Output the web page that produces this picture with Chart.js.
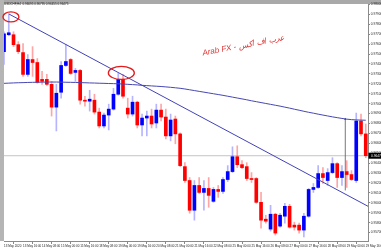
<!DOCTYPE html>
<html><head><meta charset="utf-8">
<script src="https://cdn.jsdelivr.net/npm/chart.js@4.4.0/dist/chart.umd.min.js"></script>
<style>html,body{margin:0;padding:0;background:#fff;overflow:hidden}canvas{display:block}</style>
</head><body>
<canvas id="c" width="381" height="250"></canvas>
<script>
const symbolTitle = 'USDCHF,H4';
const openP = [0.97525,0.97695,0.97695,0.97595,0.97515,0.97295,0.97445,0.97415,0.97245,0.97245,
0.97195,0.96965,0.97115,0.97385,0.97445,0.97315,0.97335,0.97035,0.97025,0.97035,
0.96915,0.96775,0.96885,0.96945,0.97095,0.97245,0.96955,0.96895,0.97015,0.96785,
0.96855,0.96875,0.96805,0.96935,0.96865,0.96675,0.96845,0.96695,0.96365,0.96225,
0.95925,0.96175,0.96105,0.96145,0.96015,0.96135,0.96115,0.96235,0.96315,0.96465,
0.96385,0.96365,0.96245,0.96245,0.96005,0.95835,0.95735,0.95885,0.95765,0.95865,
0.95965,0.95775,0.95775,0.95725,0.95865,0.96135,0.96155,0.96295,0.96225,0.96305,
0.96395,0.96255,0.96315,0.96285,0.96225,0.96825,0.96695];
const highP = [0.97725,0.97905,0.97725,0.97625,0.97605,0.97495,0.97575,0.97455,0.97325,0.97295,
0.97225,0.97195,0.97425,0.97595,0.97455,0.97355,0.97345,0.97075,0.97135,0.97095,
0.96955,0.96905,0.96995,0.97155,0.97305,0.97295,0.97055,0.97075,0.97025,0.96895,
0.96925,0.96945,0.96995,0.96995,0.96945,0.96895,0.96875,0.96705,0.96405,0.96255,
0.96225,0.96255,0.96225,0.96255,0.96155,0.96175,0.96255,0.96375,0.96565,0.96575,
0.96425,0.96405,0.96305,0.96255,0.96105,0.95875,0.95975,0.95895,0.95895,0.95995,
0.95985,0.95805,0.95795,0.95895,0.96145,0.96195,0.96375,0.96355,0.96345,0.96455,
0.96405,0.96375,0.96425,0.96325,0.96905,0.96895,0.96795];
const lowP = [0.97395,0.97685,0.97575,0.97505,0.97275,0.97275,0.97275,0.97205,0.97195,0.97185,
0.96875,0.96725,0.97055,0.97375,0.97295,0.97225,0.96995,0.96975,0.96925,0.96895,
0.96755,0.96755,0.96735,0.96935,0.97085,0.97055,0.96855,0.96875,0.96755,0.96675,
0.96675,0.96755,0.96755,0.96825,0.96645,0.96625,0.96595,0.96365,0.96205,0.95895,
0.95825,0.96095,0.95925,0.95955,0.96005,0.96055,0.96095,0.96215,0.96305,0.96355,
0.96345,0.96225,0.96205,0.95995,0.95745,0.95795,0.95715,0.95675,0.95755,0.95795,
0.95745,0.95725,0.95695,0.95655,0.95855,0.96105,0.96145,0.96195,0.96175,0.96295,
0.96155,0.96175,0.96155,0.96225,0.96205,0.96675,0.96455];
const closeP = [0.97705,0.97715,0.97595,0.97525,0.97295,0.97445,0.97415,0.97215,0.97225,0.97195,
0.96965,0.97105,0.97385,0.97425,0.97305,0.97335,0.97035,0.97025,0.97045,0.96915,
0.96775,0.96885,0.96945,0.97095,0.97245,0.97075,0.96895,0.97015,0.96785,0.96855,
0.96875,0.96795,0.96935,0.96865,0.96675,0.96835,0.96695,0.96375,0.96225,0.95925,
0.96175,0.96105,0.96145,0.96075,0.96135,0.96115,0.96235,0.96315,0.96465,0.96385,
0.96355,0.96245,0.96235,0.96005,0.95825,0.95815,0.95885,0.95695,0.95875,0.95965,
0.95755,0.95755,0.95725,0.95865,0.96135,0.96155,0.96295,0.96255,0.96305,0.96395,
0.96255,0.96315,0.96285,0.96235,0.96825,0.96695,0.96475];
const maValues = [0.97205,0.97207,0.97209,0.97211,0.97212,0.97214,0.97215,0.97216,0.97217,0.97218,
0.97218,0.97218,0.97217,0.97216,0.97215,0.97214,0.97212,0.97211,0.97209,0.97208,
0.97206,0.97205,0.97203,0.97202,0.97200,0.97198,0.97195,0.97192,0.97189,0.97185,
0.97182,0.97179,0.97176,0.97173,0.97169,0.97165,0.97160,0.97155,0.97148,0.97140,
0.97132,0.97124,0.97116,0.97108,0.97100,0.97092,0.97084,0.97075,0.97066,0.97057,
0.97048,0.97039,0.97029,0.97020,0.97011,0.97002,0.96993,0.96984,0.96975,0.96965,
0.96955,0.96944,0.96934,0.96923,0.96913,0.96904,0.96894,0.96885,0.96876,0.96867,
0.96859,0.96851,0.96844,0.96839,0.96836,0.96834,0.96833];
const trendLine = [{x:1, y:0.97905}, {x:76.47, y:0.95965}];
const arrowLine = [{x:71.7, y:0.96125}, {x:71.7, y:0.96845}];
const priceTicks = [0.980,0.979,0.978,0.977,0.976,0.975,0.974,0.973,0.972,0.971,0.970,0.969,0.968,0.967,0.966,0.965,0.964,0.963,0.962,0.961,0.960,0.959,0.958,0.957];
const timeTickIndex = [0,4,8,12,16,20,24,28,32,36,40,44,48,52,56,60,64,68,72,76];
const timeLabels = ['13 May 2020','13 May 16:00','14 May 08:00','15 May 00:00','15 May 16:00','18 May 08:00','19 May 00:00','19 May 16:00','20 May 08:00','21 May 00:00','21 May 16:00','22 May 08:00','25 May 00:00','25 May 16:00','26 May 08:00','27 May 00:00','27 May 16:00','28 May 08:00','29 May 00:00','29 May 16:00'];
const circleMarks = [{x:1.46, y:0.97875, rx:8, ry:5}, {x:24.65, y:0.97310, rx:13, ry:6.5}];
const noteText = 'Arab FX - عرب اف اكس';
const notePos = {x:41.79, y:0.97485};

const X_MIN = 0, X_MAX = 76.47;
const last = closeP.length - 1;
const idx = closeP.map((_, i) => i);
const isUp = i => closeP[i] >= openP[i];

const decor = {
  id: 'decor',
  beforeDraw(chart) {
    const c = chart.ctx, a = chart.chartArea;
    c.save();
    c.fillStyle = '#fff'; c.fillRect(0, 0, chart.width, chart.height);
    c.fillStyle = '#a9a9a9'; c.fillRect(0, 0, chart.width, a.top);
    c.fillStyle = '#b5b5b5'; c.fillRect(0, 0, a.left, a.bottom);
    c.restore();
  },
  afterDatasetsDraw(chart) {
    const c = chart.ctx, xs = chart.scales.x, ys = chart.scales.y;
    c.save();
    c.strokeStyle = '#e31b1b'; c.lineWidth = 1.3;
    circleMarks.forEach(m => {
      c.beginPath();
      c.ellipse(xs.getPixelForValue(m.x), ys.getPixelForValue(m.y), m.rx, m.ry, 0, 0, Math.PI * 2);
      c.stroke();
    });
    c.translate(xs.getPixelForValue(notePos.x), ys.getPixelForValue(notePos.y));
    c.rotate(-0.19);
    c.font = 'italic 8px "Liberation Sans", "DejaVu Sans", sans-serif';
    c.fillStyle = '#e23434';
    c.textBaseline = 'alphabetic';
    c.fillText(noteText, 0, 0);
    c.restore();
  },
  afterDraw(chart) {
    const c = chart.ctx, ys = chart.scales.y, a = chart.chartArea;
    c.save();
    c.font = '3px "Liberation Sans", sans-serif';
    c.fillStyle = '#222';
    c.textBaseline = 'middle';
    const f = v => v.toFixed(5);
    c.fillText(symbolTitle + '  ' + f(openP[last]) + ' ' + f(highP[last]) + ' ' + f(lowP[last]) + ' ' + f(closeP[last]), 4, 4.6);
    const py = ys.getPixelForValue(closeP[last]);
    c.fillStyle = '#000';
    c.fillRect(a.right + 0.5, py - 3, chart.width - a.right, 6);
    c.fillStyle = '#fff';
    c.font = '3.2px "Liberation Sans", sans-serif';
    c.fillText(f(closeP[last]), a.right + 3, py);
    c.restore();
  }
};

new Chart(document.getElementById('c'), {
  type: 'bar',
  data: {
    datasets: [
      { type: 'line', data: [{x: X_MIN, y: closeP[last]}, {x: X_MAX, y: closeP[last]}], borderColor: '#c4c4c4', borderWidth: 1, pointRadius: 0, order: 10 },
      { type: 'bar', data: idx.map(i => ({x: i, y: [lowP[i], highP[i]]})), backgroundColor: idx.map(i => isUp(i) ? 'rgba(60,60,255,0.38)' : 'rgba(255,40,40,0.42)'), barThickness: 1, grouped: false, order: 6 },
      { type: 'bar', data: idx.map(i => ({x: i, y: [openP[i], closeP[i]]})), backgroundColor: idx.map(i => isUp(i) ? '#0000ff' : '#ff0000'), barThickness: 3, minBarLength: 1, grouped: false, order: 5 },
      { type: 'line', data: idx.map(i => ({x: i, y: maValues[i]})), borderColor: '#4747b3', borderWidth: 1, pointRadius: 0, tension: 0, order: 3 },
      { type: 'line', data: trendLine, borderColor: '#4242b8', borderWidth: 1, pointRadius: 0, order: 2 },
      { type: 'line', data: arrowLine, borderColor: '#555', borderWidth: 0.8, pointRadius: [0, 1.4], pointStyle: 'triangle', pointBackgroundColor: '#444', pointBorderWidth: 0, order: 1 }
    ]
  },
  options: {
    responsive: false, animation: false, devicePixelRatio: 1, events: [],
    layout: { padding: { left: 2, top: 2, right: 0, bottom: 0 } },
    plugins: { legend: { display: false }, tooltip: { enabled: false } },
    scales: {
      x: {
        type: 'linear', position: 'bottom', min: X_MIN, max: X_MAX, offset: false,
        grid: { drawOnChartArea: false, tickLength: 3, color: '#888' },
        border: { color: '#8a8a8a' },
        afterBuildTicks: s => { s.ticks = timeTickIndex.map(v => ({value: v})); },
        afterFit: s => { s.height = 9; s.paddingLeft = 0; s.paddingRight = 0; },
        ticks: { font: { size: 3, family: 'Liberation Sans' }, color: '#222', align: 'start', maxRotation: 0, minRotation: 0, autoSkip: false, padding: 0.3,
          callback: v => timeLabels[timeTickIndex.indexOf(v)] }
      },
      y: {
        type: 'linear', position: 'right', min: 0.95615, max: 0.98005,
        grid: { drawOnChartArea: false, tickLength: 2, color: '#888' },
        border: { color: '#8a8a8a' },
        afterBuildTicks: s => { s.ticks = priceTicks.map(v => ({value: v})); },
        afterFit: s => { s.width = 13; s.paddingTop = 0; s.paddingBottom = 0; },
        ticks: { font: { size: 3.2, family: 'Liberation Sans' }, color: '#222', padding: 0.8, autoSkip: false,
          callback: v => v.toFixed(5) }
      }
    }
  },
  plugins: [decor]
});
</script>
</body></html>
